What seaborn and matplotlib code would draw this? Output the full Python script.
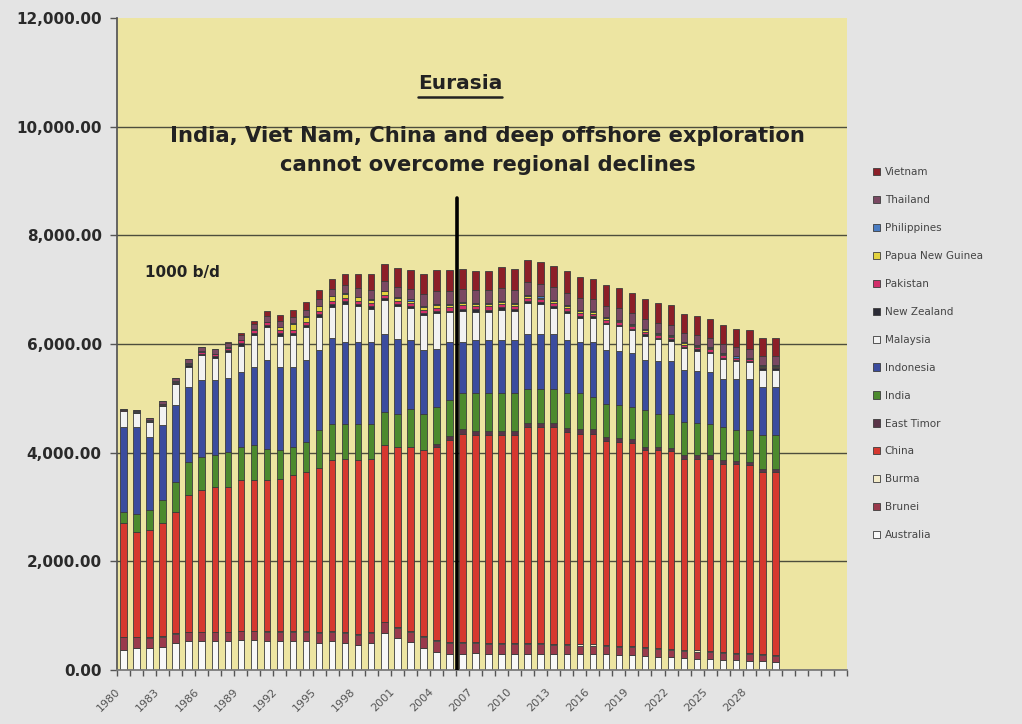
import matplotlib
matplotlib.use("Agg")
import matplotlib.pyplot as plt
import matplotlib.transforms as mtransforms
from matplotlib.ticker import FuncFormatter
import numpy as np
import pandas as pd
import seaborn as sns

# Production by country, 1000 b/d, 1980-2030
years = list(range(1980, 2031))

vietnam = [0, 0, 0, 0, 0, 0, 0, 10, 20, 40,
           50, 80, 110, 130, 140, 160, 180, 200, 250, 290,
           320, 350, 350, 360, 400, 390, 360, 340, 350, 380,
           380, 400, 400, 400, 400, 390, 380, 380, 375, 370,
           365, 360, 355, 350, 350, 345, 340, 340, 335, 330, 330]
thailand = [20, 30, 40, 50, 60, 70, 70, 80, 80, 90,
            100, 110, 110, 120, 120, 130, 140, 150, 160, 170,
            180, 190, 200, 220, 230, 240, 250, 240, 240, 240,
            240, 240, 235, 230, 225, 220, 215, 210, 205, 200,
            195, 190, 185, 180, 180, 175, 170, 170, 165, 160, 160]
philippines = [10, 10, 10, 10, 10, 10, 10, 5, 5, 5,
               5, 5, 5, 5, 5, 5, 5, 5, 5, 5,
               5, 10, 20, 20, 20, 20, 20, 20, 20, 20,
               20, 20, 20, 20, 20, 20, 20, 20, 20, 20,
               20, 20, 20, 20, 20, 20, 20, 20, 20, 20, 20]
png = [0, 0, 0, 0, 0, 0, 0, 0, 0, 0,
       0, 0, 60, 110, 100, 90, 80, 75, 70, 70,
       70, 60, 50, 50, 50, 45, 40, 40, 40, 35,
       35, 35, 30, 30, 30, 30, 25, 25, 25, 25,
       25, 20, 20, 20, 20, 20, 20, 15, 15, 15, 15]
pakistan = [10, 10, 10, 15, 20, 30, 40, 45, 50, 55,
            60, 60, 60, 60, 60, 60, 60, 60, 55, 55,
            55, 60, 60, 65, 65, 65, 65, 65, 60, 60,
            60, 55, 55, 55, 50, 50, 50, 50, 50, 45,
            45, 45, 45, 40, 40, 40, 40, 35, 35, 35, 35]
new_zealand = [10, 10, 15, 20, 25, 30, 30, 30, 35, 40,
               40, 40, 40, 40, 40, 45, 50, 50, 50, 45,
               40, 35, 30, 30, 30, 30, 40, 50, 50, 50,
               45, 45, 40, 40, 40, 35, 35, 35, 30, 30,
               30, 30, 25, 25, 25, 25, 20, 20, 20, 20, 20]
malaysia = [290, 260, 275, 355, 385, 380, 460, 410, 470, 490,
            585, 595, 575, 585, 595, 620, 575, 700, 650, 605,
            620, 595, 580, 655, 665, 540, 565, 515, 510, 555,
            530, 555, 540, 475, 505, 445, 435, 470, 455, 420,
            450, 395, 370, 395, 365, 355, 370, 320, 300, 320, 320]
indonesia = [1560, 1590, 1350, 1370, 1410, 1370, 1410, 1380, 1370, 1370,
             1440, 1640, 1540, 1470, 1510, 1470, 1580, 1510, 1510, 1510,
             1440, 1380, 1270, 1160, 1070, 1080, 950, 980, 980, 980,
             980, 1010, 1010, 1010, 980, 950, 1020, 1000, 1000, 990,
             920, 970, 980, 970, 960, 950, 890, 950, 950, 890, 890]
india = [200, 340, 370, 430, 550, 610, 610, 580, 640, 620,
         650, 580, 520, 530, 550, 700, 670, 640, 670, 640,
         610, 610, 700, 680, 690, 660, 660, 690, 690, 690,
         690, 630, 630, 630, 630, 660, 590, 600, 600, 590,
         670, 620, 620, 610, 600, 580, 610, 570, 590, 620, 620]
east_timor = [0, 0, 0, 0, 0, 0, 0, 0, 0, 0,
              0, 0, 0, 0, 0, 0, 0, 0, 0, 0,
              0, 0, 0, 0, 40, 70, 80, 80, 80, 80,
              80, 80, 80, 80, 80, 80, 80, 70, 70, 70,
              70, 60, 60, 60, 60, 60, 60, 50, 50, 50, 50]
china = [2100, 1930, 1970, 2080, 2230, 2520, 2610, 2670, 2670, 2770,
         2770, 2770, 2800, 2860, 2930, 3010, 3140, 3190, 3200, 3190,
         3250, 3310, 3390, 3420, 3550, 3710, 3830, 3800, 3820, 3820,
         3820, 3980, 3980, 3990, 3900, 3880, 3880, 3760, 3750, 3740,
         3620, 3640, 3640, 3520, 3530, 3540, 3470, 3470, 3460, 3360, 3370]
burma = [10, 10, 10, 10, 10, 10, 10, 10, 10, 10,
         10, 15, 15, 15, 15, 15, 15, 15, 15, 15,
         15, 20, 20, 20, 20, 20, 20, 20, 20, 20,
         20, 20, 20, 20, 20, 20, 20, 20, 20, 20,
         20, 20, 20, 20, 20, 20, 20, 20, 20, 20, 20]
brunei = [230, 200, 180, 180, 180, 160, 160, 160, 160, 160,
          160, 170, 170, 170, 170, 180, 180, 180, 180, 180,
          190, 190, 190, 190, 200, 200, 200, 190, 190, 180,
          180, 180, 170, 170, 170, 160, 160, 150, 150, 150,
          140, 140, 140, 130, 130, 130, 120, 120, 120, 110, 110]
australia = [370, 400, 410, 430, 490, 530, 530, 530, 530, 550,
             550, 535, 535, 535, 535, 505, 525, 505, 465, 505,
             685, 590, 510, 410, 340, 300, 300, 310, 290, 300,
             300, 290, 300, 290, 290, 290, 290, 290, 280, 270,
             260, 240, 230, 220, 210, 200, 190, 180, 170, 160, 150]

# legend order (top of stack first)
countries = ["Vietnam", "Thailand", "Philippines", "Papua New Guinea", "Pakistan",
             "New Zealand", "Malaysia", "Indonesia", "India", "East Timor",
             "China", "Burma", "Brunei", "Australia"]
series = [vietnam, thailand, philippines, png, pakistan, new_zealand, malaysia,
          indonesia, india, east_timor, china, burma, brunei, australia]
colors = ["#8C1F28", "#7A4862", "#4A7CC2", "#E2D23E", "#D22E6A", "#2B2B36",
          "#F2F2F2", "#3B4C9E", "#4C8A2E", "#5A3448", "#D6382F", "#F3EBC9",
          "#9A3A4C", "#F8F8F8"]

label_years = list(range(1980, 2029, 3))

rows = []
for name, vals in zip(countries, series):
    for yr, v in zip(years, vals):
        rows.append((yr, name, v))
df = pd.DataFrame(rows, columns=["year", "country", "kbd"])

sns.set_theme(style="white")
plt.rcParams["font.family"] = ["DejaVu Sans"]

fig = plt.figure(figsize=(10.22, 7.24), dpi=100, facecolor="#E4E4E4")
ax = fig.add_axes([0.1145, 0.0746, 0.7143, 0.9006])
ax.set_facecolor("#EDE5A2")

sns.histplot(data=df, x="year", weights="kbd", hue="country", hue_order=countries,
             palette=dict(zip(countries, colors)), multiple="stack", discrete=True,
             shrink=0.5, alpha=1, edgecolor="#3c3c3c", linewidth=0.6, ax=ax, zorder=2)

# axes
ax.set_xlim(1979.5, 2035.5)
ax.set_ylim(0, 12000)
ax.set_xlabel("")
ax.set_ylabel("")
ax.set_axisbelow(True)
ax.yaxis.grid(True, color="#4d4d3c", linewidth=1)
ax.set_yticks(range(0, 12001, 2000))
ax.get_ygridlines()[-1].set_visible(False)
ax.yaxis.set_major_formatter(FuncFormatter(lambda v, p: f"{v:,.2f}"))
for lab in ax.get_yticklabels():
    lab.set_fontweight("bold")
ax.tick_params(axis="y", left=True, length=5, width=1, color="#555555",
               labelsize=11, labelcolor="#2a2a2a", pad=6)

ax.set_xticks(label_years)
ax.set_xticklabels([str(y) for y in label_years], rotation=45, ha="right",
                   rotation_mode="anchor", va="top")
ax.set_xticks(np.arange(1979.5, 2036, 1), minor=True)
ax.tick_params(axis="x", which="major", length=0, labelsize=8, labelcolor="#555555", pad=12)
ax.tick_params(axis="x", which="minor", bottom=True, length=4, width=1, color="#555555")
offset = mtransforms.ScaledTranslation(-8 / 100, 0, fig.dpi_scale_trans)
for lab in ax.get_xticklabels():
    lab.set_transform(lab.get_transform() + offset)

for s in ["top", "right"]:
    ax.spines[s].set_visible(False)
ax.spines["left"].set_color("#555555")
ax.spines["bottom"].set_color("#777777")

# 2006 marker line
ax.plot([2005.6, 2005.6], [0, 8690], color="black", linewidth=2.6, zorder=4)

# annotations
t = ax.text(0.47, 0.90, "Eurasia", transform=ax.transAxes, ha="center", va="center",
            fontsize=14.5, fontweight="bold", color="#222222")
ax.text(0.508, 0.797, "India, Viet Nam, China and deep offshore exploration\ncannot overcome regional declines",
        transform=ax.transAxes, ha="center", va="center", fontsize=15.2, fontweight="bold",
        color="#222222", linespacing=1.6)
ax.text(0.038, 0.61, "1000 b/d", transform=ax.transAxes, ha="left", va="center",
        fontsize=11, fontweight="bold", color="#222222")

fig.canvas.draw()
bb = t.get_window_extent().transformed(ax.transAxes.inverted())
ax.plot([bb.x0, bb.x1], [bb.y0 - 0.006, bb.y0 - 0.006], transform=ax.transAxes,
        color="#222222", linewidth=1.8)

sns.move_legend(ax, "center left", bbox_to_anchor=(1.023, 0.485), frameon=False, title=None,
                fontsize=7.5, labelspacing=1.72, handlelength=0.7, handleheight=0.7,
                handletextpad=0.4)
for txt in ax.get_legend().get_texts():
    txt.set_color("#444444")

fig.savefig("out.png", dpi=100, facecolor=fig.get_facecolor())
